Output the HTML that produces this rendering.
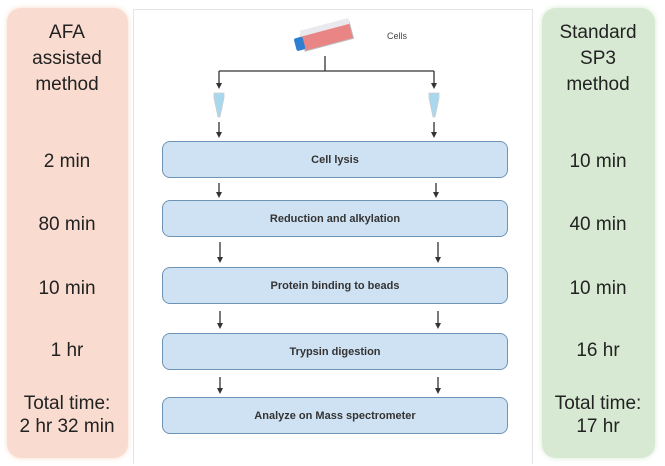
<!DOCTYPE html>
<html><head><style>
body{margin:0;width:665px;height:466px;background:#fff;position:relative;overflow:hidden;font-family:"Liberation Sans",sans-serif;}
.p{position:absolute;border-radius:14px;}
.t{position:absolute;width:140px;text-align:center;font-size:19px;color:#222;line-height:26px;}
.b{position:absolute;left:162px;width:346px;height:37px;background:#cfe2f3;border:1.5px solid #6f93b5;border-radius:8px;font-size:11px;font-weight:bold;color:#333;display:flex;align-items:center;justify-content:center;box-sizing:border-box;}
</style></head><body>
<div class="p" style="left:7px;top:8px;width:121px;height:450px;background:#f9dccf;box-shadow:0 0 6px #f9dccf;"></div>
<div class="p" style="left:542px;top:8px;width:113px;height:450px;background:#d7e9d2;box-shadow:0 0 6px #d7e9d2;"></div>
<div style="position:absolute;left:133px;top:9px;width:400px;height:455px;border:1px solid #e4e4e4;border-bottom:none;box-sizing:border-box;"></div>

<div class="t" style="left:-3px;top:20px">AFA<br>assisted<br>method</div>
<div class="t" style="left:-3px;top:149px">2 min</div>
<div class="t" style="left:-3px;top:212px">80 min</div>
<div class="t" style="left:-3px;top:276px">10 min</div>
<div class="t" style="left:-3px;top:338px">1 hr</div>
<div class="t" style="left:-3px;top:392px;line-height:23px">Total time:<br>2 hr 32 min</div>

<div class="t" style="left:528px;top:20px">Standard<br>SP3<br>method</div>
<div class="t" style="left:528px;top:149px">10 min</div>
<div class="t" style="left:528px;top:212px">40 min</div>
<div class="t" style="left:528px;top:276px">10 min</div>
<div class="t" style="left:528px;top:338px">16 hr</div>
<div class="t" style="left:528px;top:392px;line-height:23px">Total time:<br>17 hr</div>

<svg width="665" height="466" style="position:absolute;left:0;top:0">
<g transform="translate(327,36) rotate(-15)">
<rect x="-25" y="-8" width="50" height="17" fill="#e98585" stroke="#bbb"/>
<rect x="-25" y="-12" width="50" height="6" fill="#e9e9ee"/>
<rect x="-33" y="-6" width="9" height="13" rx="2" fill="#2f7fd0"/>
</g>
<text x="387" y="39" font-size="9" fill="#444" font-family="Liberation Sans">Cells</text>
<g stroke="#333" stroke-width="1.3" fill="none">
<path d="M325,56 V71 M219,71 H434"/>
<path d="M219,71 V84 M434,71 V84"/>
<path d="M219,122 V133 M434,122 V133"/>
<path d="M219,183 V193 M436,183 V193"/>
<path d="M220,242 V258 M438,242 V258"/>
<path d="M220,311 V324 M438,311 V324"/>
<path d="M220,377 V389 M438,377 V389"/>
</g>
<g fill="#333">
<path d="M216,83 H222 L219,89z M431,83 H437 L434,89z"/>
<path d="M216,132 H222 L219,138z M431,132 H437 L434,138z"/>
<path d="M216,192 H222 L219,198z M433,192 H439 L436,198z"/>
<path d="M217,257 H223 L220,263z M435,257 H441 L438,263z"/>
<path d="M217,323 H223 L220,329z M435,323 H441 L438,329z"/>
<path d="M217,388 H223 L220,394z M435,388 H441 L438,394z"/>
</g>
<g fill="#a9d8ee" stroke="#ccc" stroke-width="0.8">
<path d="M214,93 H224 V98 L220,117 L218,117 L214,98z"/>
<path d="M429,93 H439 V98 L435,117 L433,117 L429,98z"/>
</g>
</svg>

<div class="b" style="top:141px">Cell lysis</div>
<div class="b" style="top:200px">Reduction and alkylation</div>
<div class="b" style="top:267px">Protein binding to beads</div>
<div class="b" style="top:333px">Trypsin digestion</div>
<div class="b" style="top:397px">Analyze on Mass spectrometer</div>
</body></html>
